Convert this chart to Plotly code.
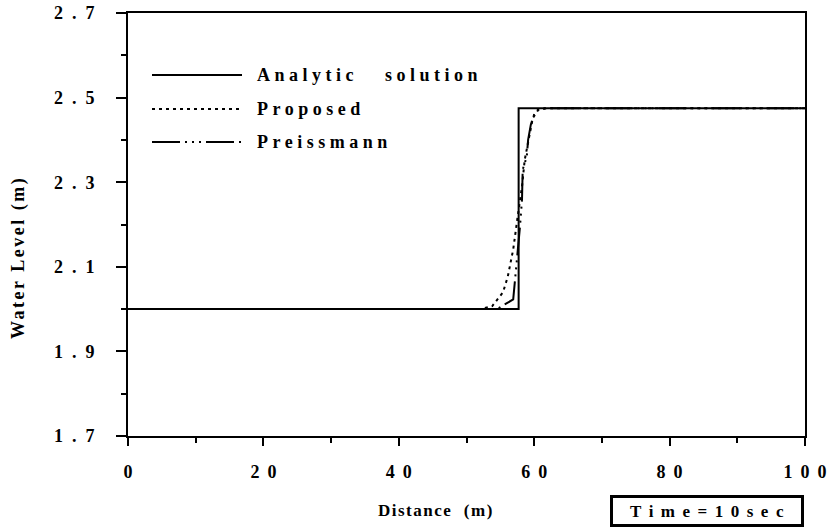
import plotly.graph_objects as go

# ---- data ----
analytic_x = [0, 57.7, 57.7, 100]
analytic_y = [2.0, 2.0, 2.475, 2.475]

proposed_x = [0, 52.0, 53.8, 55.4, 56.1, 56.9, 57.5, 58.2, 58.6, 59.4, 59.8, 60.6, 61.9, 100]
proposed_y = [2.0, 2.0, 2.007, 2.040, 2.077, 2.141, 2.212, 2.290, 2.353, 2.417, 2.452, 2.471, 2.475, 2.475]

preiss_x = [0, 54.5, 56.9, 57.3, 57.6, 57.9, 58.2, 58.3, 58.9, 59.1, 59.5, 60.1, 60.9, 100]
preiss_y = [2.0, 2.0, 2.023, 2.087, 2.134, 2.195, 2.259, 2.330, 2.360, 2.400, 2.436, 2.466, 2.475, 2.475]

x_ticks = [0, 20, 40, 60, 80, 100]
x_ticklabels = ["0", "20", "40", "60", "80", "100"]
y_ticks = [1.7, 1.9, 2.1, 2.3, 2.5, 2.7]
y_ticklabels = ["1.7", "1.9", "2.1", "2.3", "2.5", "2.7"]

series_names = ["Analytic   solution", "Proposed", "Preissmann"]
time_label = "Time=10sec"
x_title = "Distance  (m)"
y_title = "Water Level (m)"

FONT = "Liberation Serif"


def spaced(t, px):
    # letter-spacing on all characters but the last (no trailing gap)
    if len(t) < 2:
        return t
    return '<span style="letter-spacing:%spx">%s</span>%s' % (px, t[:-1], t[-1])


dash_styles = ["solid", "3px,4px", "28px,5px,2px,5px,2px,5px,2px,5px"]

fig = go.Figure()
fig.add_trace(go.Scatter(x=proposed_x, y=proposed_y, mode="lines",
                         line=dict(color="black", width=2, dash=dash_styles[1]),
                         showlegend=False))
fig.add_trace(go.Scatter(x=preiss_x, y=preiss_y, mode="lines",
                         line=dict(color="black", width=2, dash=dash_styles[2]),
                         showlegend=False))
fig.add_trace(go.Scatter(x=analytic_x, y=analytic_y, mode="lines",
                         line=dict(color="black", width=2, dash=dash_styles[0]),
                         showlegend=False))

# plot area in page pixels: left 128, right 805, top 13, bottom 436
PL, PR, PT, PB = 128, 805, 13, 436


def px(x):
    return (x - PL) / (PR - PL)


def py(y):
    return (PB - y) / (PB - PT)


# manual legend (paper coordinates)
leg_rows = [75, 109, 142]
for name, dash, yy in zip(series_names, dash_styles, leg_rows):
    fig.add_shape(type="line", xref="paper", yref="paper",
                  x0=px(152), x1=px(242), y0=py(yy), y1=py(yy),
                  line=dict(color="black", width=2, dash=dash))
    fig.add_annotation(xref="paper", yref="paper", x=px(255), y=py(yy),
                       xanchor="left", yanchor="middle", showarrow=False,
                       text="<b>%s</b>" % spaced(name, 4.5),
                       font=dict(family=FONT, size=18, color="black"))

# axis titles
fig.add_annotation(xref="paper", yref="paper", x=px(435), y=py(510),
                   xanchor="center", yanchor="middle", showarrow=False,
                   text="<b>%s</b>" % spaced(x_title, 1.5),
                   font=dict(family=FONT, size=17, color="black"))
fig.add_annotation(xref="paper", yref="paper", x=px(18), y=py(258),
                   xanchor="center", yanchor="middle", showarrow=False, textangle=-90,
                   text="<b>%s</b>" % spaced(y_title, 2.5),
                   font=dict(family=FONT, size=18, color="black"))
# time box
fig.add_annotation(xref="paper", yref="paper", x=px(707), y=py(511),
                   xanchor="center", yanchor="middle", showarrow=False,
                   text="<b>%s</b>" % spaced(time_label, 7.5),
                   width=188, height=26, borderwidth=3, bordercolor="black",
                   borderpad=0, bgcolor="white",
                   font=dict(family=FONT, size=17, color="black"))

axis_common = dict(showgrid=False, zeroline=False, showline=True, linecolor="black",
                   linewidth=2, mirror=True, ticks="outside", tickcolor="black",
                   tickwidth=2, automargin=False, ticklabeloverflow="allow",
                   tickfont=dict(family=FONT, size=18, color="black", weight="bold"))

fig.update_xaxes(range=[0, 100], tickmode="array", tickvals=x_ticks,
                 ticktext=[spaced(t, 8) for t in x_ticklabels],
                 ticklen=8, ticklabelstandoff=10,
                 minor=dict(dtick=10, tick0=0, ticklen=5, tickwidth=2, tickcolor="black", ticks="outside"),
                 **axis_common)
fig.update_yaxes(range=[1.7, 2.7], tickmode="array", tickvals=y_ticks,
                 ticktext=[spaced(t, 9) for t in y_ticklabels],
                 ticklen=10, ticklabelstandoff=18,
                 minor=dict(dtick=0.1, tick0=1.7, ticklen=5, tickwidth=2, tickcolor="black", ticks="outside"),
                 **axis_common)

W, H = 830, 528
fig.update_layout(width=W, height=H,
                  margin=dict(l=PL, r=W - PR, t=PT, b=H - PB),
                  plot_bgcolor="white", paper_bgcolor="white", showlegend=False)

fig.write_html("out.html", config={"displayModeBar": False},
               post_script="document.body.style.margin='0';")
